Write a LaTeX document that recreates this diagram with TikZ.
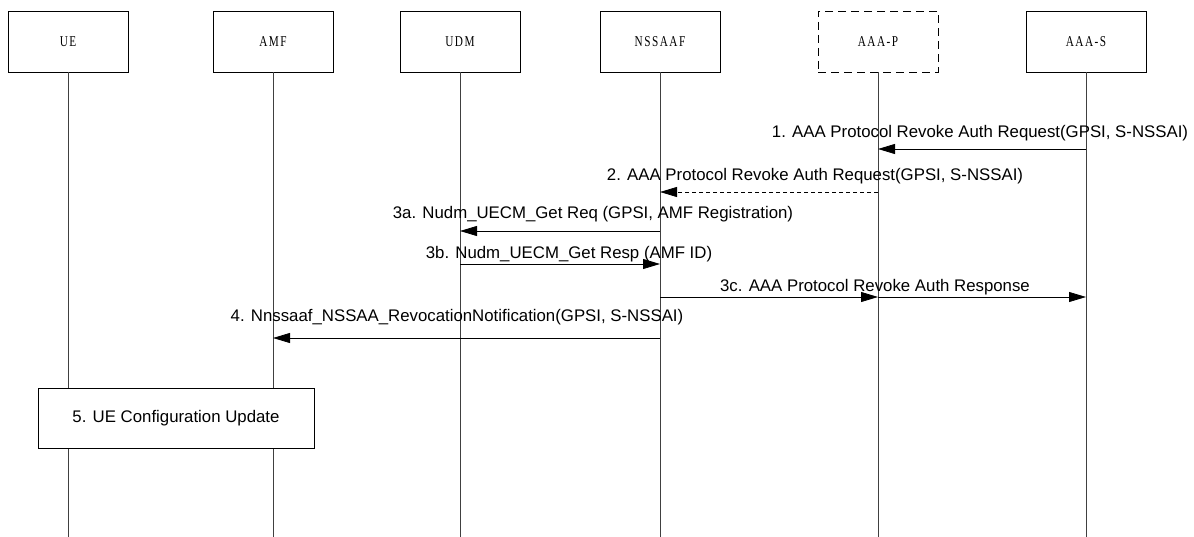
\documentclass[tikz,border=0pt]{standalone}
\usepackage{fontspec}
\setmainfont{Liberation Sans}
\newfontfamily\hdrfont[FakeStretch=0.75, LetterSpace=10]{Liberation Serif}
\usetikzlibrary{arrows.meta}

\tikzset{
  actor/.style={draw, line width=0.9pt, minimum width=120pt, minimum height=61pt,
    font=\hdrfont\fontsize{15}{17}\selectfont},
  life/.style={line width=0.8pt, draw=black!75},
  msg/.style={line width=0.8pt, -{Triangle[length=17pt, width=10pt]}},
  lbl/.style={inner sep=0pt, font=\fontsize{16.8}{19}\selectfont},
  stepbox/.style={draw, line width=0.9pt, fill=white, minimum width=276pt, minimum height=60pt,
    font=\fontsize{16.8}{19}\selectfont}
}

\begin{document}
\begin{tikzpicture}[x=1pt, y=-1pt]
\useasboundingbox (0,0) rectangle (1194,537);

% entities
\node[actor] (ue) at (68,41.5) {UE};
\node[actor] (amf) at (273,41.5) {AMF};
\node[actor] (udm) at (460,41.5) {UDM};
\node[actor] (nssaaf) at (660,41.5) {NSSAAF};
\node[actor, dash pattern=on 8pt off 5pt] (aaap) at (878,41.5) {AAA-P};
\node[actor] (aaas) at (1086,41.5) {AAA-S};

% lifelines
\coordinate (bot) at (0,537);
\foreach \n in {ue,amf,udm,nssaaf,aaap,aaas}
  \draw[life] (\n.south) -- (\n.south |- bot);

% message rows
\coordinate (m1) at (0,149);
\coordinate (m2) at (0,192);
\coordinate (m3a) at (0,231);
\coordinate (m3b) at (0,264);
\coordinate (m3c) at (0,297);
\coordinate (m4) at (0,338);

\draw[msg] (aaas |- m1) -- (aaap |- m1); % 1
\draw[msg, dash pattern=on 4pt off 3pt] (aaap |- m2) -- (nssaaf |- m2); % 2
\draw[msg] (nssaaf |- m3a) -- (udm |- m3a); % 3a
\draw[msg] (udm |- m3b) -- (nssaaf |- m3b); % 3b
\draw[msg] (nssaaf |- m3c) -- (aaap |- m3c); % 3c
\draw[msg] (aaap |- m3c) -- (aaas |- m3c);
\draw[msg] (nssaaf |- m4) -- (amf |- m4); % 4

\node[lbl] (l1) at (980,133) {1. AAA Protocol Revoke Auth Request(GPSI, S-NSSAI)};
\node[lbl] (l2) at (815,176) {2. AAA Protocol Revoke Auth Request(GPSI, S-NSSAI)};
\node[lbl] (l3a) at (593,214) {3a. Nudm\_UECM\_Get Req (GPSI, AMF Registration)};
\node[lbl] (l3b) at (569,254) {3b. Nudm\_UECM\_Get Resp (AMF ID)};
\node[lbl] (l3c) at (875,287) {3c. AAA Protocol Revoke Auth Response};
\node[lbl] (l4) at (457,317) {4. Nnssaaf\_NSSAA\_RevocationNotification(GPSI, S-NSSAI)};

% step 5
\node[stepbox] (cfg) at (176,418) {5. UE Configuration Update};
\end{tikzpicture}
\end{document}
